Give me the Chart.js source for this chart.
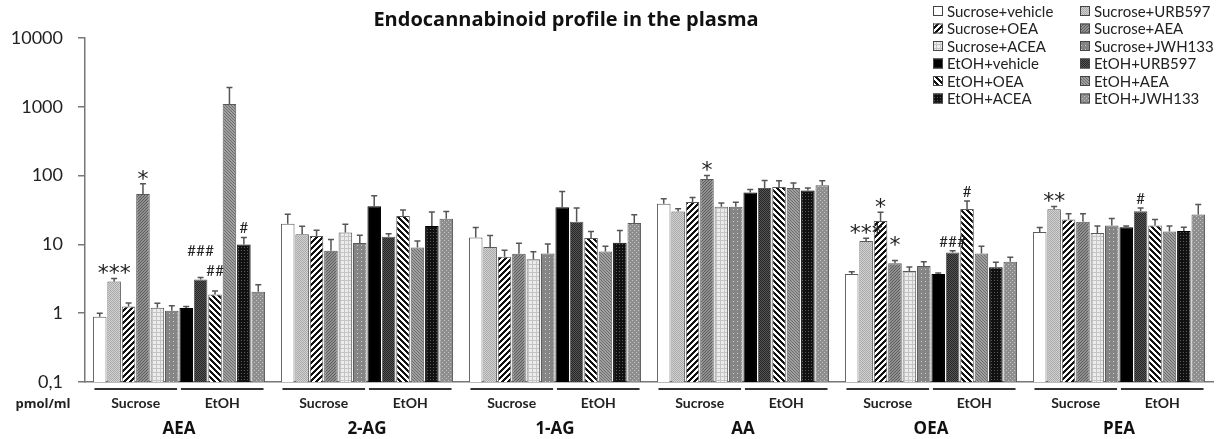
<!DOCTYPE html>
<html>
<head>
<meta charset="utf-8">
<script src="https://cdn.jsdelivr.net/npm/chart.js@4.4.1/dist/chart.umd.min.js"></script>
<style>
  html, body { margin: 0; padding: 0; background: #fff; }
  #wrap { width: 1217px; height: 439px; position: relative; }
</style>
</head>
<body>
<div id="wrap"><canvas id="chart"></canvas></div>
<script>
const analytes = ['AEA', '2-AG', '1-AG', 'AA', 'OEA', 'PEA'];
const groups = ['Sucrose', 'EtOH'];
const treatments = [
  'Sucrose+vehicle', 'Sucrose+URB597', 'Sucrose+OEA', 'Sucrose+AEA', 'Sucrose+ACEA', 'Sucrose+JWH133',
  'EtOH+vehicle', 'EtOH+URB597', 'EtOH+OEA', 'EtOH+AEA', 'EtOH+ACEA', 'EtOH+JWH133'
];
const yTicks = [0.1, 1, 10, 100, 1000, 10000];
const yTickLabels = ['0,1', '1', '10', '100', '1000', '10000'];
const unitLabel = 'pmol/ml';
const titleText = 'Endocannabinoid profile in the plasma';

// means per analyte (AEA, 2-AG, 1-AG, AA, OEA, PEA), pmol/ml
const sucVehicle = [0.89, 20, 12.6, 39, 3.7, 15.2];
const sucURB597 = [2.9, 14.1, 9.2, 30, 11.2, 32.4];
const sucOEA = [1.25, 13.2, 6.6, 41.4, 21.8, 23.1];
const sucAEA = [54, 8.1, 7.3, 89, 5.3, 21.3];
const sucACEA = [1.2, 14.9, 6.1, 35.4, 4.1, 14.7];
const sucJWH133 = [1.09, 10.5, 7.4, 35.4, 4.85, 18.9];
const etohVehicle = [1.19, 36, 34.6, 56.6, 3.7, 17.8];
const etohURB597 = [3.1, 12.9, 21.3, 66, 7.6, 30.3];
const etohOEA = [1.87, 25.8, 12.4, 68, 32.8, 18.9];
const etohAEA = [1096, 9.0, 7.9, 66, 7.4, 15.4];
const etohACEA = [10, 18.5, 10.6, 60.6, 4.64, 15.6];
const etohJWH133 = [2.05, 23.6, 20.4, 72.6, 5.6, 27.3];

// SEM
const sucVehicleSem = [0.11, 7.4, 5.0, 7, 0.29, 2.4];
const sucURB597Sem = [0.3, 4.2, 4.3, 2.9, 1.1, 3.3];
const sucOEASem = [0.16, 2.8, 1.6, 6.6, 7.5, 4.8];
const sucAEASem = [22, 3.7, 3.1, 11, 0.54, 6.6];
const sucACEASem = [0.19, 4.8, 1.7, 4.6, 0.6, 3.8];
const sucJWH133Sem = [0.19, 3.1, 2.7, 5.6, 0.75, 4.8];
const etohVehicleSem = [0.06, 15, 24, 6.4, 0.13, 0.7];
const etohURB597Sem = [0.2, 1.4, 12.4, 19, 0.5, 3.5];
const etohOEASem = [0.23, 5.8, 3.0, 16, 9.9, 4.1];
const etohAEASem = [817, 2.2, 1.5, 12, 2.0, 3.1];
const etohACEASem = [2.6, 11, 5.3, 5.4, 0.86, 2.2];
const etohJWH133Sem = [0.55, 6.4, 6.6, 11.4, 0.9, 10.7];

// [analyte index, treatment index, mark]
const sigMarks = [
  [0, 1, '***'], [0, 3, '*'], [0, 7, '###'], [0, 8, '##'], [0, 10, '#'],
  [3, 3, '*'],
  [4, 1, '***'], [4, 2, '*'], [4, 3, '*'], [4, 7, '###'], [4, 8, '#'],
  [5, 1, '**'], [5, 7, '#']
];

const means = [sucVehicle, sucURB597, sucOEA, sucAEA, sucACEA, sucJWH133,
  etohVehicle, etohURB597, etohOEA, etohAEA, etohACEA, etohJWH133];
const sems = [sucVehicleSem, sucURB597Sem, sucOEASem, sucAEASem, sucACEASem, sucJWH133Sem,
  etohVehicleSem, etohURB597Sem, etohOEASem, etohAEASem, etohACEASem, etohJWH133Sem];

const canvas = document.getElementById('chart');
const ctx = canvas.getContext('2d');

// little pixel patterns, like the fills of the original office chart
function pattern(size, bg, fg, test) {
  const c = document.createElement('canvas');
  c.width = size; c.height = size;
  const g = c.getContext('2d');
  g.fillStyle = bg;
  g.fillRect(0, 0, size, size);
  if (fg) {
    g.fillStyle = fg;
    for (let x = 0; x < size; x++)
      for (let y = 0; y < size; y++)
        if (test(x, y)) g.fillRect(x, y, 1, 1);
  }
  return ctx.createPattern(c, 'repeat');
}
const checker = (x, y) => (x + y) % 2 === 0;
const fills = [
  '#ffffff',
  pattern(4, '#d2d2d2', '#a9a9a9', checker),
  pattern(6, '#ffffff', '#111111', (x, y) => (x + y) % 6 < 3),
  pattern(3, '#909090', '#5c5c5c', (x, y) => (x + y) % 3 === 0),
  pattern(4, '#ececec', '#c4c4c4', (x, y) => x % 4 === 0 || y % 4 === 0),
  pattern(4, '#858585', '#cfcfcf', (x, y) => x % 4 === 1 && y % 4 === 1),
  '#000000',
  pattern(2, '#555555', '#262626', checker),
  pattern(6, '#ffffff', '#111111', (x, y) => (x - y + 12) % 6 < 3),
  pattern(3, '#a0a0a0', '#6c6c6c', (x, y) => (x - y + 6) % 3 === 0),
  pattern(3, '#111111', '#5a5a5a', (x, y) => x % 3 === 1 && y % 3 === 1),
  pattern(4, '#8e8e8e', '#c4c4c4', (x, y) => (x % 4 === 0 && y % 4 === 0) || (x % 4 === 2 && y % 4 === 2))
];

const FONT = 'Lato, "Open Sans", sans-serif';
const BOLD = '"Open Sans", Lato, sans-serif';

const errorBars = {
  id: 'errorBars',
  afterDatasetsDraw(chart) {
    const y = chart.scales.y;
    const c = chart.ctx;
    c.save();
    c.strokeStyle = '#555';
    c.lineWidth = 1.5;
    chart.data.datasets.forEach((ds, i) => {
      chart.getDatasetMeta(i).data.forEach((bar, j) => {
        const top = y.getPixelForValue(ds.data[j] + ds.sem[j]);
        c.beginPath();
        c.moveTo(bar.x, bar.y);
        c.lineTo(bar.x, top);
        c.moveTo(bar.x - 3, top);
        c.lineTo(bar.x + 3, top);
        c.stroke();
      });
    });
    c.restore();
  }
};

const markLift = { '0-7': 17, '0-8': 11, '4-3': 10 };
const annotations = {
  id: 'annotations',
  afterDraw(chart) {
    const c = chart.ctx;
    const y = chart.scales.y;
    const area = chart.chartArea;
    c.save();
    c.fillStyle = '#111';
    c.textAlign = 'center';
    c.textBaseline = 'middle';

    // title (sits left of centre in the original)
    c.font = 'bold 20px ' + BOLD;
    c.fillText(titleText, 566, 20);

    // significance marks
    c.fillStyle = '#222';
    sigMarks.forEach(([j, i, txt]) => {
      const ds = chart.data.datasets[i];
      const bar = chart.getDatasetMeta(i).data[j];
      const top = y.getPixelForValue(ds.data[j] + ds.sem[j]);
      const cy = top - 9 - (markLift[j + '-' + i] || 0);
      const star = txt[0] === '*';
      c.font = star ? '22px "DejaVu Sans", sans-serif' : '15px ' + FONT;
      const step = star ? 11 : 9;
      for (let k = 0; k < txt.length; k++) {
        const cx = bar.x + (k - (txt.length - 1) / 2) * step;
        c.fillText(txt[k], cx, star ? cy + 5 : cy);
      }
    });

    // Sucrose / EtOH brackets
    const bottom = area.bottom;
    analytes.forEach((a, j) => {
      groups.forEach((g, gi) => {
        const first = chart.getDatasetMeta(gi * 6).data[j];
        const last = chart.getDatasetMeta(gi * 6 + 5).data[j];
        const l = first.x - first.width / 2 + 1.5;
        const r = last.x + last.width / 2 - 1.5;
        c.strokeStyle = '#333';
        c.lineWidth = 2;
        c.beginPath();
        c.moveTo(l, bottom + 7);
        c.lineTo(r, bottom + 7);
        c.stroke();
        c.font = 'bold 14px ' + FONT;
        c.fillText(g, (l + r) / 2, bottom + 21);
      });
    });

    c.font = 'bold 13px ' + BOLD;
    c.fillText(unitLabel, area.left - 42, bottom + 22);

    // legend, two columns
    c.textAlign = 'left';
    c.font = '15px ' + FONT;
    chart.data.datasets.forEach((ds, i) => {
      const col = i % 2, row = Math.floor(i / 2);
      const bx = col === 0 ? 933 : 1080;
      const cy = 11 + row * 17.5;
      c.fillStyle = ds.backgroundColor;
      c.fillRect(bx, cy - 5, 10, 10);
      c.strokeStyle = '#444';
      c.lineWidth = 1;
      c.strokeRect(bx + 0.5, cy - 4.5, 9, 9);
      c.fillStyle = '#222';
      c.fillText(ds.label, bx + 14, cy + 1);
    });
    c.restore();
  }
};

new Chart(ctx, {
  type: 'bar',
  data: {
    labels: analytes,
    datasets: treatments.map((t, i) => ({
      label: t,
      data: means[i],
      sem: sems[i],
      backgroundColor: fills[i],
      borderColor: i === 6 || i === 10 ? '#000' : '#5a5a5a',
      borderWidth: 1,
      categoryPercentage: 0.92,
      barPercentage: 0.94
    }))
  },
  options: {
    responsive: true,
    maintainAspectRatio: false,
    animation: false,
    layout: { padding: { top: 38, right: 4, left: 0, bottom: 0 } },
    plugins: {
      legend: { display: false },
      tooltip: { enabled: false },
      title: { display: false }
    },
    scales: {
      x: {
        grid: { display: false, drawTicks: false },
        border: { display: true, color: '#777', width: 1.5 },
        ticks: { color: '#111', font: { family: BOLD, size: 17, weight: 'bold' }, padding: 37 },
        afterFit(scale) { scale.height = 57; }
      },
      y: {
        type: 'logarithmic',
        min: 0.1,
        max: 10000,
        grid: { drawOnChartArea: false, drawTicks: true, tickLength: 7, color: '#777', lineWidth: 1.5 },
        border: { display: true, color: '#777', width: 1.5 },
        afterBuildTicks(scale) { scale.ticks = yTicks.map(v => ({ value: v })); },
        ticks: {
          color: '#222',
          font: { family: FONT, size: 18 },
          padding: 15,
          callback: v => yTickLabels[yTicks.indexOf(v)]
        },
        afterFit(scale) { scale.width = 85; }
      }
    }
  },
  plugins: [errorBars, annotations]
});
</script>
</body>
</html>
